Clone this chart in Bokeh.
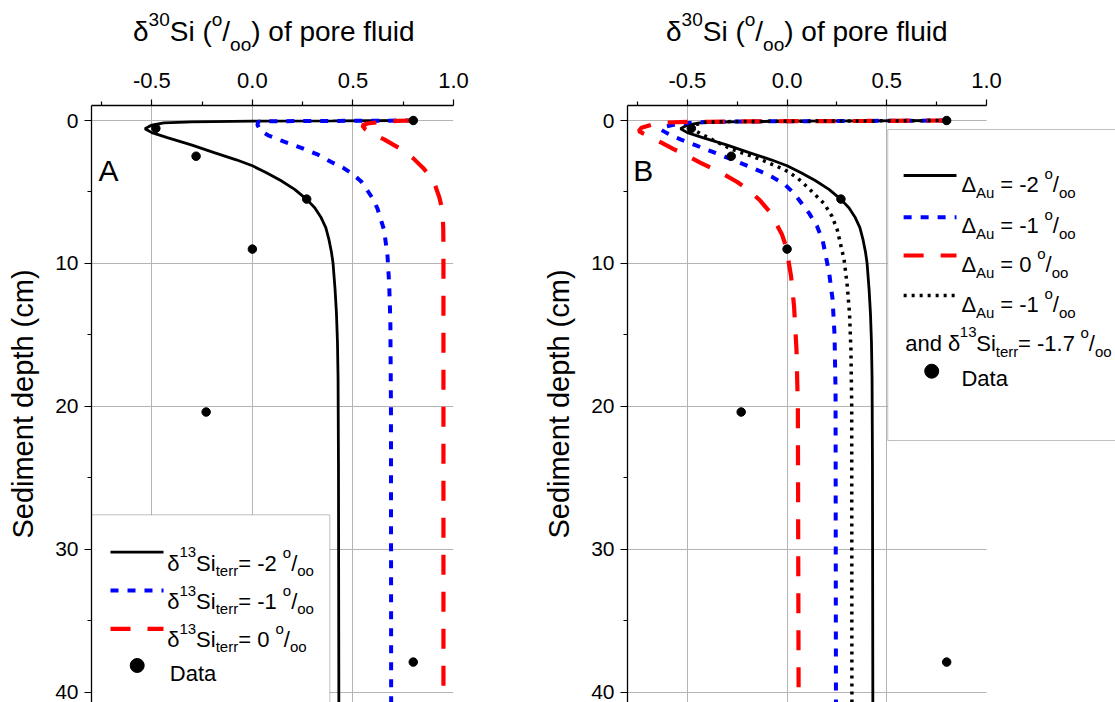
import math
from bokeh.plotting import figure
from bokeh.layouts import row, column
from bokeh.models import Range1d, FixedTicker, NumeralTickFormatter, Label, BoxAnnotation, Div
from bokeh.embed import file_html
from bokeh.resources import INLINE

FONT = "Liberation Sans"

# ---------------- data ----------------
data_x = [0.80, -0.48, -0.28, 0.27, 0.00, -0.23, 0.80]
data_depth = [0.00, 0.55, 2.50, 5.50, 9.00, 20.40, 37.90]

# delta13Si_terr = -2 permil (also Delta_Au = -2 permil in panel B)
terr_m2_x = [0.80, 0.40, 0.00, -0.30, -0.44, -0.50, -0.534, -0.50, -0.423, -0.30, -0.19, -0.08,
             0.00, 0.07, 0.141, 0.21, 0.27, 0.31, 0.34, 0.365, 0.381, 0.393, 0.401, 0.411,
             0.418, 0.423, 0.426, 0.428, 0.43]
terr_m2_depth = [0.00, 0.03, 0.05, 0.10, 0.17, 0.32, 0.58, 0.85, 1.20, 1.72, 2.25, 2.75,
                 3.17, 3.65, 4.20, 4.82, 5.52, 6.10, 6.75, 7.50, 8.36, 9.20, 9.98, 11.8,
                 13.5, 15.5, 18.0, 24.0, 41.0]

# delta13Si_terr = -1 permil
terr_m1_x = [0.80, 0.40, 0.10, 0.03, 0.025, 0.04, 0.08, 0.141, 0.24, 0.32, 0.39, 0.45, 0.497,
             0.54, 0.572, 0.60, 0.622, 0.655, 0.672, 0.68, 0.686, 0.689, 0.69]
terr_m1_depth = [0.00, 0.03, 0.05, 0.08, 0.30, 0.70, 1.05, 1.39, 1.90, 2.35, 2.89, 3.30, 3.74,
                 4.25, 4.90, 5.50, 6.17, 7.67, 9.50, 11.4, 14.0, 20.0, 41.0]

# delta13Si_terr = 0 permil
terr_0_x = [0.80, 0.72, 0.64, 0.572, 0.547, 0.56, 0.60, 0.655, 0.738, 0.80, 0.854, 0.89, 0.912,
            0.93, 0.945, 0.949, 0.950, 0.950]
terr_0_depth = [0.00, 0.03, 0.10, 0.21, 0.35, 0.60, 0.95, 1.32, 2.00, 2.65, 3.40, 4.00, 4.67,
                5.40, 6.29, 7.50, 8.83, 41.0]

# Delta_Au = -1 permil
au_m1_x = [0.80, 0.40, 0.00, -0.30, -0.45, -0.55, -0.62, -0.635, -0.60, -0.535, -0.46, -0.386,
           -0.30, -0.22, -0.14, -0.071, -0.01, 0.037, 0.111, 0.150, 0.178, 0.211, 0.228, 0.238,
           0.243, 0.245]
au_m1_depth = [0.00, 0.03, 0.05, 0.08, 0.13, 0.25, 0.45, 0.62, 0.90, 1.32, 1.72, 2.13,
               2.60, 3.05, 3.52, 3.98, 4.50, 5.13, 6.50, 7.40, 8.36, 10.67, 12.5, 15.0,
               19.0, 41.0]

# Delta_Au = 0 permil
au_0_x = [0.80, 0.40, 0.00, -0.30, -0.50, -0.60, -0.68, -0.73, -0.743, -0.72, -0.693, -0.63,
          -0.569, -0.50, -0.436, -0.38, -0.32, -0.25, -0.19, -0.135, -0.09, -0.055, -0.025,
          -0.005, 0.02, 0.035, 0.047, 0.054, 0.058]
au_0_depth = [0.00, 0.03, 0.05, 0.07, 0.10, 0.14, 0.30, 0.50, 0.74, 0.92, 1.09, 1.55,
              2.00, 2.47, 2.94, 3.33, 3.74, 4.30, 4.90, 5.60, 6.35, 7.20, 8.00,
              8.83, 10.9, 13.0, 16.0, 20.0, 41.0]

# Delta_Au = -1 permil and delta13Si_terr = -1.7 permil
au_m1_terr17_x = [0.80, 0.40, 0.00, -0.30, -0.42, -0.47, -0.48, -0.436, -0.36, -0.279, -0.137,
                  -0.013, 0.05, 0.103, 0.186, 0.225, 0.252, 0.286, 0.302, 0.313, 0.320, 0.324,
                  0.325]
au_m1_terr17_depth = [0.00, 0.03, 0.05, 0.08, 0.13, 0.35, 0.55, 0.90, 1.45, 2.00, 2.70,
                      3.44, 4.00, 4.67, 5.82, 6.70, 7.67, 9.75, 11.6, 13.5, 16.0, 20.0,
                      41.0]

x_ticks = [-0.5, 0.0, 0.5, 1.0]
x_minor_ticks = [-0.75, -0.25, 0.25, 0.75]
x_grid = [-0.5, 0.0, 0.5]
y_ticks = [0, 10, 20, 30, 40]
y_minor_ticks = [5, 15, 25, 35]

# ---------------- geometry ----------------
TITLE_H = 50
FIG_H = 702 - TITLE_H
TOP = 105 - TITLE_H          # frame top inside the figure
FRAME_H = FIG_H - TOP
X0, X1 = -0.8, 1.0
SX = 362 / (X1 - X0)         # px per permil
Y_TOP, PX_CM = -1.05, 14.29
Y_BOT = Y_TOP + FRAME_H / PX_CM


def fx(px):
    return X0 + px / SX


def fy(py):
    return Y_TOP + py / PX_CM


WID = {' ': 278, '(': 333, ')': 333, '-': 333, '.': 278, '/': 278, '=': 584,
       'A': 667, 'B': 667, 'D': 722, 'S': 667, 'a': 556, 'c': 500, 'd': 556, 'e': 556,
       'f': 278, 'i': 222, 'l': 222, 'm': 833, 'n': 556, 'o': 556, 'p': 556, 'r': 333,
       't': 278, 'u': 556, 'h': 556, '\u03b4': 556, '\u0394': 668}


def tw(s, size):
    return sum(WID.get(c, 556) for c in s) * size / 1000.0


def label(p, px, py, text, size, angle=0.0):
    p.add_layout(Label(x=fx(px), y=fy(py), text=text, text_font=FONT,
                       text_font_size=f"{size}px", text_color="black",
                       text_baseline="alphabetic", text_align="left", angle=angle))


def rich(p, px, base, segs, size, small, sup_dy, sub_dy):
    x = px
    for text, kind in segs:
        if kind == "n":
            fs, dy = size, 0
        elif kind == "sup":
            fs, dy = small, sup_dy
        else:
            fs, dy = small, sub_dy
        body = text.lstrip(" ")
        x += tw(text[:len(text) - len(body)], fs)
        label(p, x, base + dy, body, fs)
        x += tw(body, fs)


def title_div(width, left):
    sup = "font-size:19px;position:relative;top:-15px;"
    sub = "font-size:19px;position:relative;top:10px;"
    html = (f"<div style=\"padding:18px 0 0 {left}px;margin:0;font-family:'{FONT}';"
            f"font-size:28px;line-height:28px;white-space:nowrap;color:#000;\">"
            f"\u03b4<span style='{sup}'>30</span>Si (<span style='{sup}'>o</span>/"
            f"<span style='{sub}'>oo</span>) of pore fluid</div>")
    return Div(text=html, width=width, height=TITLE_H, margin=0)


def make_fig(width, left_border, frame_w):
    x_end = X0 + frame_w / SX
    p = figure(width=width, height=FIG_H, output_backend="svg", toolbar_location=None,
               x_range=Range1d(X0, x_end), y_range=Range1d(Y_BOT, Y_TOP),
               x_axis_location="above", min_border_left=left_border,
               min_border_right=width - left_border - frame_w, min_border_top=TOP,
               min_border_bottom=0)
    p.outline_line_color = None
    p.background_fill_color = "white"
    p.border_fill_color = "white"
    for ax in (p.xaxis[0], p.yaxis[0]):
        ax.axis_line_color = "black"
        ax.axis_line_width = 1.3
        ax.major_tick_line_color = "black"
        ax.minor_tick_line_color = "black"
        ax.major_tick_line_width = 1.2
        ax.minor_tick_line_width = 1.2
        ax.major_tick_in = 0
        ax.minor_tick_in = 0
        ax.major_label_text_font = FONT
        ax.major_label_text_color = "black"
    xa, ya = p.xaxis[0], p.yaxis[0]
    xa.major_label_text_font_size = "22px"
    ya.major_label_text_font_size = "21px"
    xa.bounds = (X0, X1)
    xa.ticker = FixedTicker(ticks=x_ticks, minor_ticks=x_minor_ticks)
    xa.formatter = NumeralTickFormatter(format="0.0")
    xa.major_tick_out = 6
    xa.minor_tick_out = 4
    xa.major_label_standoff = 12
    ya.ticker = FixedTicker(ticks=y_ticks, minor_ticks=y_minor_ticks)
    ya.major_tick_out = 7
    ya.minor_tick_out = 4
    ya.major_label_standoff = 6
    ya.axis_label = "Sediment depth (cm)"
    ya.axis_label_text_font = FONT
    ya.axis_label_text_font_size = "29px"
    ya.axis_label_text_font_style = "normal"
    ya.axis_label_text_color = "black"
    ya.axis_label_standoff = 13
    p.xgrid.ticker = FixedTicker(ticks=x_grid)
    p.ygrid.ticker = FixedTicker(ticks=y_ticks)
    for g in (p.xgrid[0], p.ygrid[0]):
        g.grid_line_color = "#b4b4b4"
        g.grid_line_width = 1
    return p


SOLID = dict(line_color="black", line_width=2.8)
BLUE = dict(line_color="#0000ff", line_width=4, line_dash="8 9")
RED = dict(line_color="#ff0000", line_width=4.2, line_dash="20 17")
DOTS = dict(line_color="black", line_width=3.5, line_dash="3 5")

# ---------------- panel A ----------------
pA = make_fig(540, 91, 362)
pA.add_layout(BoxAnnotation(left=fx(0), right=fx(238.3), top=fy(409.3), bottom=fy(640),
                            fill_color="white", fill_alpha=1.0, line_color="#333333",
                            line_width=1, level="underlay"))
pA.line(terr_m2_x, terr_m2_depth, **SOLID)
pA.line(terr_m1_x, terr_m1_depth, **BLUE)
pA.line(terr_0_x, terr_0_depth, **RED)
pA.scatter(data_x, data_depth, size=8.5, color="black")
label(pA, 7, 65, "A", 30)

legA_y = [446.7, 485.0, 523.3]
for yy, st in zip(legA_y, (SOLID, BLUE, RED)):
    pA.line([fx(19), fx(72)], [fy(yy), fy(yy)], **st)
for yy, val in zip(legA_y, ("-2", "-1", "0")):
    segs = [("\u03b4", "n"), ("13", "sup"), ("Si", "n"), ("terr", "sub"), (f"= {val} ", "n"),
            ("o", "sup"), ("/", "n"), ("oo", "sub")]
    rich(pA, 75.7, yy + 11, segs, 22, 15, -11, 7)
pA.scatter([fx(45.7)], [fy(560)], size=14, color="black")
label(pA, 78.3, 568.3, "Data", 22)

# ---------------- panel B (frame runs to the page edge; axis stops at 1.0) ----------------
pB = make_fig(575, 83, 575 - 83)
pB.add_layout(BoxAnnotation(left=X1, right=X1 + 2, top=Y_TOP - 1, bottom=Y_BOT + 1,
                            fill_color="white", fill_alpha=1.0, line_color=None,
                            level="underlay"))
pB.add_layout(BoxAnnotation(left=fx(262.4), right=X1 + 2, top=fy(24), bottom=fy(335),
                            fill_color="white", fill_alpha=1.0, line_color="#333333",
                            line_width=1, level="underlay"))
pB.line(terr_m2_x, terr_m2_depth, **SOLID)
pB.line(au_m1_x, au_m1_depth, **BLUE)
pB.line(au_0_x, au_0_depth, **RED)
pB.line(au_m1_terr17_x, au_m1_terr17_depth, **DOTS)
pB.scatter(data_x, data_depth, size=8.5, color="black")
label(pB, 5.7, 65, "B", 30)

legB_y = [70.0, 111.7, 150.0, 190.0]
for yy, st in zip(legB_y, (SOLID, BLUE, RED, DOTS)):
    pB.line([fx(278.4), fx(331.7)], [fy(yy), fy(yy)], **st)
for yy, val in zip(legB_y, ("-2", "-1", "0", "-1")):
    segs = [("\u0394", "n"), ("Au", "sub"), (f" = {val} ", "n"), ("o", "sup"), ("/", "n"),
            ("oo", "sub")]
    rich(pB, 336.7, yy + 8.5, segs, 22, 15, -11, 8)
segs = [("and \u03b4", "n"), ("13", "sup"), ("Si", "n"), ("terr", "sub"), ("= -1.7 ", "n"),
        ("o", "sup"), ("/", "n"), ("oo", "sub")]
rich(pB, 280, 237.7, segs, 22, 15, -11, 8)
pB.scatter([fx(306.7)], [fy(265.7)], size=14, color="black")
label(pB, 336.7, 273, "Data", 22)

layout = row(column(title_div(540, 133), pA, spacing=0),
             column(title_div(575, 126), pB, spacing=0), spacing=0)
open("out.html", "w").write(file_html(layout, INLINE))
